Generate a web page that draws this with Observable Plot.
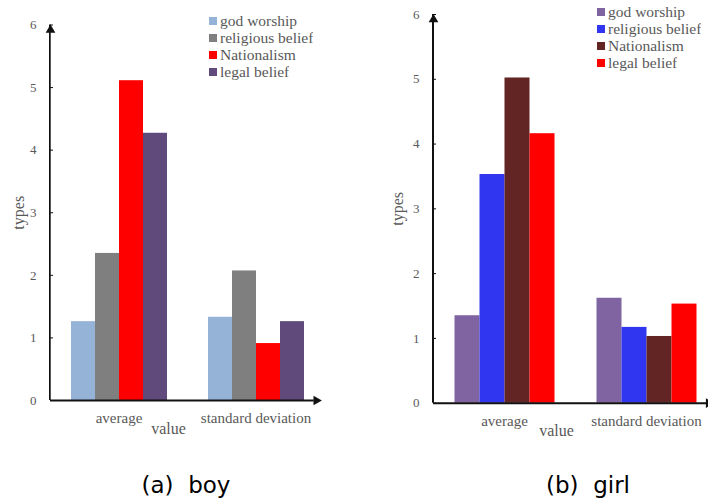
<!DOCTYPE html>
<html><head><meta charset="utf-8">
<script src="https://cdn.jsdelivr.net/npm/d3@7"></script>
<script src="https://cdn.jsdelivr.net/npm/@observablehq/plot@0.6"></script>
<style>
body{margin:0;background:#fff;}
#wrap{position:relative;width:708px;height:500px;overflow:hidden;background:#fff;}
.panel{position:absolute;top:0;height:500px;}
.panel svg{overflow:visible;}
.caption{position:absolute;top:471px;font:23px 'DejaVu Sans';line-height:28px;color:#000;white-space:pre;transform:translateX(-50%);}
.lgwrap{position:absolute;}
.lg-swatches-columns .lg-swatch{line-height:16px !important;padding-bottom:1px !important;}
.lg-swatch svg{margin-right:3px !important;}
</style></head><body><div id="wrap"></div>
<script>
const groups = ["average", "standard deviation"];
const seriesNames = ["god worship", "religious belief", "Nationalism", "legal belief"];
const boyAverage = [1.26, 2.35, 5.11, 4.27];
const boyStd = [1.33, 2.07, 0.91, 1.26];
const girlAverage = [1.35, 3.53, 5.02, 4.16];
const girlStd = [1.62, 1.17, 1.03, 1.53];
const boyColors = ["#95b3d7", "#7f7f7f", "#ff0000", "#604a7b"];
const girlColors = ["#8064a2", "#3035ef", "#632523", "#ff0000"];
const yTicks = [0, 1, 2, 3, 4, 5, 6];
const captions = ["(a)  boy", "(b)  girl"];
const xTitle = "value";
const yTitle = "types";

function rows(avg, std) {
  const out = [];
  seriesNames.forEach((s, i) => out.push({group: groups[0], series: s, value: avg[i]}));
  seriesNames.forEach((s, i) => out.push({group: groups[1], series: s, value: std[i]}));
  return out;
}

const wrap = document.getElementById("wrap");

function panel(cfg) {
  const H = 450;
  const W = cfg.width;
  const facetW = (W - cfg.marginLeft - cfg.marginRight) / groups.length;
  const data = rows(cfg.avg, cfg.std);
  const div = document.createElement("div");
  div.className = "panel";
  div.style.left = cfg.left + "px";
  div.style.width = W + "px";
  const chart = Plot.plot({
    width: W, height: H,
    marginLeft: cfg.marginLeft, marginRight: cfg.marginRight,
    marginTop: cfg.marginTop, marginBottom: H - cfg.frameBottom,
    style: {fontFamily: "'Liberation Serif'", fontSize: "15px", color: "#595959", background: "white", overflow: "visible"},
    fx: {domain: groups, padding: 0, label: null, axis: null},
    x: {domain: seriesNames, paddingInner: 0, paddingOuter: 0.746, align: 0.5, axis: null},
    y: {domain: [0, 6], axis: null},
    color: {domain: seriesNames, range: cfg.colors},
    marks: [
      Plot.barY(data, {fx: "group", x: "series", y: "value", fill: "series"}),
      // x axis baseline (continuous across both facets, stops under the arrowhead)
      Plot.ruleY([{fx: groups[0], y: 0}], {fx: "fx", y: "y", stroke: "#111", strokeWidth: 2}),
      Plot.ruleY([{fx: groups[1], y: 0}], {fx: "fx", y: "y", stroke: "#111", strokeWidth: 2, insetRight: cfg.arrowBack + 2}),
      // y axis line along the left edge of the first facet
      Plot.barY([{fx: groups[0], y1: 0, y2: 6}], {fx: "fx", y1: "y1", y2: "y2", fill: "#111",
        insetLeft: -1, insetRight: facetW - 1}),
      Plot.axisY(yTicks, {anchor: "left", tickSize: -3, tickPadding: 17, stroke: "#111", fill: "#595959",
        tickFormat: d => String(d), fontSize: 13, label: null}),
      Plot.text([{fx: groups[0]}], {fx: "fx", frameAnchor: "left", rotate: -90, text: () => yTitle,
        textAnchor: "middle", dx: -cfg.labelOffset, fontSize: 16, fill: "#595959"}),
      Plot.axisFx({anchor: "bottom", tickSize: 0, tickPadding: 12, label: null, fill: "#595959", fontSize: 15}),
      Plot.dot([{fx: groups[0], y: 6}], {fx: "fx", y: "y", frameAnchor: "left", symbol: "triangle", r: 3.6, fill: "#111", stroke: "none", dy: 5}),
      Plot.dot([{fx: groups[1], y: 0}], {fx: "fx", y: "y", frameAnchor: "right", symbol: "triangle", r: 3.6, fill: "#111", stroke: "none", rotate: 90, dx: -cfg.arrowBack}),
      Plot.text([{fx: groups[0]}], {fx: "fx", frameAnchor: "bottom-right", text: () => xTitle, textAnchor: "middle",
        dx: cfg.valueDx, dy: 33, fill: "#595959", fontSize: 16})
    ]
  });
  div.appendChild(chart);
  wrap.appendChild(div);

  const lg = Plot.legend({
    color: {domain: seriesNames, range: cfg.colors},
    legend: "swatches", columns: 1, swatchSize: 8, className: "lg",
    style: {fontFamily: "'Liberation Serif'", fontSize: "15.5px", color: "#595959", background: "transparent", margin: "0"}
  });
  const lw = document.createElement("div");
  lw.className = "lgwrap";
  lw.style.left = cfg.legendX + "px";
  lw.style.top = cfg.legendY + "px";
  lw.appendChild(lg);
  wrap.appendChild(lw);

  const cap = document.createElement("div");
  cap.className = "caption";
  cap.style.left = cfg.captionX + "px";
  cap.textContent = cfg.caption;
  wrap.appendChild(cap);
}

panel({left: 0, width: 354, marginLeft: 50, marginRight: 29.4, marginTop: 24.5, frameBottom: 400, labelOffset: 32,
  arrowBack: 8.2, valueDx: -19,
  avg: boyAverage, std: boyStd, colors: boyColors, legendX: 209, legendY: 13, caption: captions[0], captionX: 186});
panel({left: 354, width: 364, marginLeft: 78.5, marginRight: 1.5, marginTop: 14, frameBottom: 402.7, labelOffset: 36,
  arrowBack: 8.8, valueDx: -19,
  avg: girlAverage, std: girlStd, colors: girlColors, legendX: 597, legendY: 3.5, caption: captions[1], captionX: 588});
</script></body></html>
